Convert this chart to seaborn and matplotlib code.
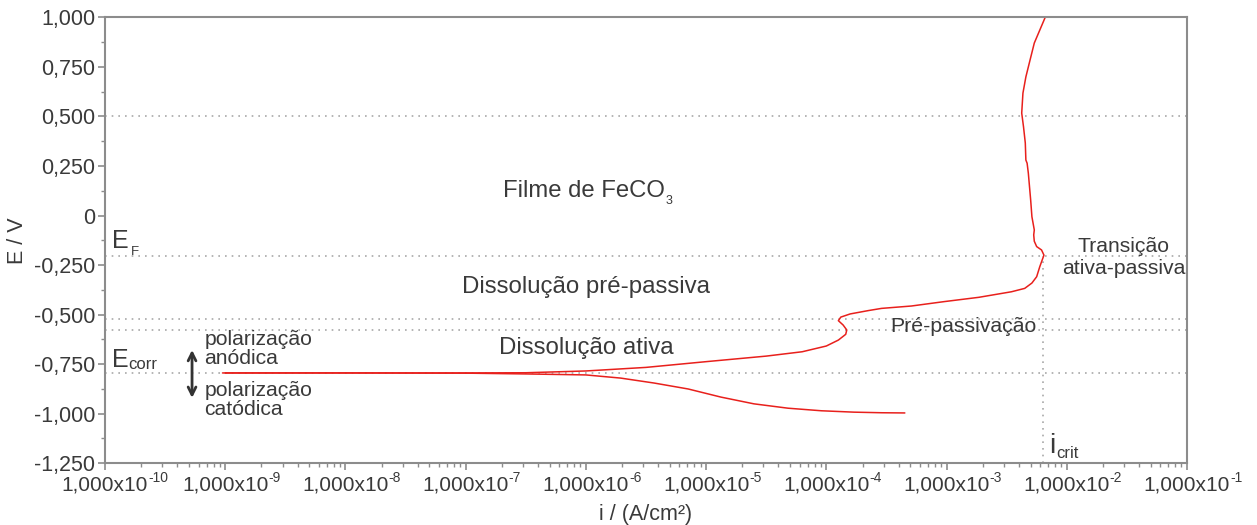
import matplotlib
matplotlib.use("Agg")
import matplotlib.pyplot as plt
import matplotlib.ticker as mticker
import seaborn as sns
import pandas as pd

# anodic branch: current density (A/cm2) and potential (V)
anodic_i = [1.0e-9, 1.0e-8, 1.0e-7, 3.16e-7, 1.0e-6, 3.16e-6, 1.0e-5, 3.16e-5, 6.3e-5,
            1.0e-4, 1.26e-4, 1.45e-4, 1.48e-4, 1.38e-4, 1.26e-4, 1.32e-4, 1.58e-4,
            2.24e-4, 2.88e-4, 5.1e-4, 9.5e-4, 1.86e-3, 3.47e-3, 4.47e-3, 5.13e-3,
            5.62e-3, 5.96e-3, 6.46e-3, 6.17e-3, 5.62e-3, 5.37e-3, 5.31e-3, 5.37e-3,
            5.13e-3, 5.01e-3, 4.79e-3, 4.68e-3, 4.57e-3, 4.52e-3, 4.37e-3, 4.22e-3,
            4.32e-3, 4.57e-3, 4.95e-3, 5.37e-3, 6.61e-3]
anodic_E = [-0.795, -0.795, -0.795, -0.794, -0.785, -0.767, -0.738, -0.71, -0.688,
            -0.659, -0.629, -0.60, -0.578, -0.553, -0.531, -0.513, -0.497,
            -0.48, -0.469, -0.457, -0.435, -0.413, -0.385, -0.368, -0.341,
            -0.309, -0.259, -0.20, -0.174, -0.157, -0.13, -0.098, -0.073,
            -0.006, 0.078, 0.214, 0.264, 0.28, 0.366, 0.447, 0.517,
            0.618, 0.70, 0.785, 0.871, 1.0]

# cathodic branch
cathodic_i = [9.5e-10, 1.0e-8, 1.0e-7, 3.16e-7, 1.0e-6, 1.95e-6, 3.7e-6, 7.1e-6,
              1.33e-5, 2.5e-5, 4.8e-5, 9.1e-5, 1.7e-4, 2.9e-4, 4.5e-4]
cathodic_E = [-0.795, -0.795, -0.796, -0.80, -0.805, -0.821, -0.846, -0.876,
              -0.917, -0.951, -0.973, -0.986, -0.993, -0.996, -0.997]

ref_levels = [0.5, -0.205, -0.525, -0.578, -0.795]
E_F = -0.205
i_crit = 6.4e-3

x_ticks = [1e-10, 1e-9, 1e-8, 1e-7, 1e-6, 1e-5, 1e-4, 1e-3, 1e-2, 1e-1]
x_exps = ["-10", "-9", "-8", "-7", "-6", "-5", "-4", "-3", "-2", "-1"]
y_ticks = [-1.25, -1.0, -0.75, -0.5, -0.25, 0, 0.25, 0.5, 0.75, 1.0]

sns.set_style("white")
plt.rcParams["font.family"] = ["Liberation Sans", "DejaVu Sans"]

txt = "#3a3a3a"
grey = "#8c8c8c"
dotc = "#a8a8a8"
red = "#e8201c"

fig = plt.figure(figsize=(12.57, 5.25), dpi=100)
ax = fig.add_axes([0.0835, 0.118, 0.8608, 0.8487])

an = pd.DataFrame({"i": anodic_i, "E": anodic_E})
ca = pd.DataFrame({"i": cathodic_i, "E": cathodic_E})
sns.lineplot(data=an, x="i", y="E", sort=False, estimator=None, color=red, lw=1.1, ax=ax)
sns.lineplot(data=ca, x="i", y="E", sort=False, estimator=None, color=red, lw=1.1, ax=ax)

for lv in ref_levels:
    ax.axhline(lv, color=dotc, lw=1.2, ls=(0, (1, 3)), zorder=0)
ax.vlines(i_crit, -1.25, E_F, color=dotc, lw=1.2, ls=(0, (1, 3)), zorder=0)

ax.set_xscale("log")
ax.set_xlim(1e-10, 1e-1)
ax.set_ylim(-1.25, 1.0)
ax.set_xticks(x_ticks)
ax.set_xticklabels(["1,000x10"] * len(x_ticks))
ax.xaxis.set_minor_locator(mticker.LogLocator(base=10, subs=range(2, 10), numticks=20))
ax.xaxis.set_minor_formatter(mticker.NullFormatter())
ax.set_yticks(y_ticks)
ax.set_yticklabels(["0" if v == 0 else f"{v:.3f}".replace(".", ",") for v in y_ticks])
ax.yaxis.set_minor_locator(mticker.MultipleLocator(0.125))

ax.tick_params(which="major", direction="out", length=5, width=1.2, color=grey,
               labelsize=15.5, labelcolor=txt, pad=2)
ax.tick_params(axis="x", which="major", labelsize=15, pad=4)
ax.tick_params(which="minor", direction="out", length=3, width=1, color=grey)
ax.tick_params(axis="x", which="both", bottom=True)
ax.tick_params(axis="y", which="both", left=True)
for s in ax.spines.values():
    s.set_color(grey)
    s.set_linewidth(1.5)

# exponents of the x tick labels
for t, e in zip(x_ticks, x_exps):
    ax.annotate(e, xy=(t, 0), xycoords=("data", "axes fraction"), xytext=(31, -6),
                textcoords="offset points", ha="left", va="top", fontsize=10, color=txt,
                annotation_clip=False)

ax.set_xlabel("i / (A/cm²)", fontsize=15.5, color=txt, labelpad=7)
ax.set_ylabel("E / V", fontsize=15.5, color=txt, labelpad=4)


def sub_label(x, y, main, sub, fs, sub_fs, dx, dy):
    ax.text(x, y, main, fontsize=fs, color=txt, ha="left", va="baseline")
    ax.annotate(sub, xy=(x, y), xytext=(dx, dy), textcoords="offset points",
                fontsize=sub_fs, color=txt, ha="left", va="baseline")


ax.text(4.55e-6, 0.124, "Filme de FeCO", fontsize=17.2, color=txt, ha="right", va="center")
ax.annotate("3", xy=(4.55e-6, 0.124), xytext=(0.5, -7), textcoords="offset points",
            fontsize=9, color=txt, ha="left", va="center")
ax.text(1e-6, -0.36, "Dissolução pré-passiva", fontsize=17.3, color=txt, ha="center", va="center")
ax.text(1e-6, -0.67, "Dissolução ativa", fontsize=17.3, color=txt, ha="center", va="center")
ax.text(1.38e-3, -0.56, "Pré-passivação", fontsize=15.3, color=txt, ha="center", va="center")
ax.text(2.98e-2, -0.212, "Transição\nativa-passiva", fontsize=15.2, color=txt,
        ha="center", va="center", linespacing=1.15)

sub_label(1.15e-10, -0.164, "E", "F", 18, 9.5, 13.5, -5)
sub_label(1.15e-10, -0.765, "E", "corr", 18, 12, 11.5, -1.5)
sub_label(7.2e-3, -1.2, "i", "crit", 20, 12, 4.5, -3.5)

ax.text(6.7e-10, -0.672, "polarização\nanódica", fontsize=15.2, color=txt,
        ha="left", va="center", linespacing=1.0)
ax.text(6.7e-10, -0.934, "polarização\ncatódica", fontsize=15.2, color=txt,
        ha="left", va="center", linespacing=1.0)
ax.annotate("", xy=(5.3e-10, -0.665), xytext=(5.3e-10, -0.935),
            arrowprops=dict(arrowstyle="<->", color="#333333", lw=2, mutation_scale=14))

fig.savefig("out.png", dpi=100)
